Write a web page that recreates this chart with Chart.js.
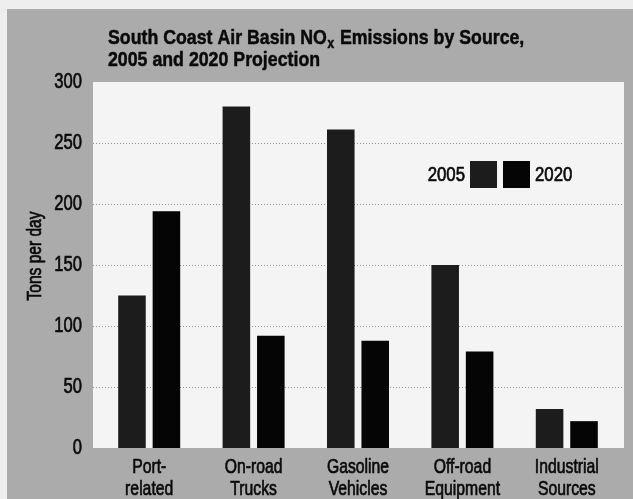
<!DOCTYPE html>
<html>
<head>
<meta charset="utf-8">
<title>South Coast Air Basin NOx Emissions by Source</title>
<script src="https://cdn.jsdelivr.net/npm/chart.js@4/dist/chart.umd.min.js"></script>
<style>
  html, body { margin: 0; padding: 0; background: #eeeeee; }
  #wrap { position: relative; width: 633px; height: 499px; }
</style>
</head>
<body>
<div id="wrap"><canvas id="chart" width="633" height="499"></canvas></div>
<script>
// Source categories (two-line axis labels)
const categories = [
  ["Port-", "related"],
  ["On-road", "Trucks"],
  ["Gasoline", "Vehicles"],
  ["Off-road", "Equipment"],
  ["Industrial", "Sources"]
];
// NOx emissions, tons per day
const emissions2005 = [125, 280, 261, 150, 32];
const emissions2020 = [194, 92, 88, 79, 22];
const seriesLabels = ["2005", "2020"];
const yTicks = [0, 50, 100, 150, 200, 250, 300];

const titleLine1 = ["South Coast Air Basin NO", "x", " Emissions by Source,"];
const titleLine2 = "2005 and 2020 Projection";
const yAxisTitle = "Tons per day";

const FONT = '"Liberation Sans", Arial, sans-serif';
const INK = '#0a0a0a';

// Condensed text: draw with a horizontal squeeze for a narrow typeface look,
// plus a hairline stroke to give the strokes a little more weight
function condensedText(ctx, text, x, y, size, opts) {
  const o = Object.assign({ weight: 'normal', align: 'left', baseline: 'alphabetic', squeeze: 0.75, rotate: 0, stroke: 0.7 }, opts);
  ctx.save();
  ctx.translate(x, y);
  if (o.rotate) ctx.rotate(o.rotate);
  ctx.scale(o.squeeze, 1);
  ctx.font = o.weight + ' ' + size + 'px ' + FONT;
  ctx.textAlign = o.align;
  ctx.textBaseline = o.baseline;
  ctx.fillStyle = INK;
  ctx.fillText(text, 0, 0);
  if (o.stroke > 0) {
    ctx.strokeStyle = INK;
    ctx.lineWidth = o.stroke;
    ctx.lineJoin = 'round';
    ctx.strokeText(text, 0, 0);
  }
  const w = ctx.measureText(text).width * o.squeeze;
  ctx.restore();
  return w;
}

// Page backdrop, grey panel, white plot box and dotted grid
const panelPlugin = {
  id: 'panel',
  beforeDraw(chart) {
    const { ctx, chartArea: a, scales: { y } } = chart;
    ctx.save();
    ctx.fillStyle = '#eeeeee';
    ctx.fillRect(0, 0, chart.width, chart.height);
    ctx.fillStyle = '#ababab';
    ctx.fillRect(7, 9, chart.width - 7, chart.height - 9);
    const left = a.left - 4, right = a.right + 5;
    const top = y.getPixelForValue(300), bottom = y.getPixelForValue(0);
    ctx.fillStyle = '#f4f4f4';
    ctx.fillRect(left, top, right - left, bottom - top);
    ctx.strokeStyle = '#959595';
    ctx.lineWidth = 1;
    ctx.setLineDash([1, 2]);
    yTicks.filter(v => v > 0 && v < 300).forEach(v => {
      const py = Math.round(y.getPixelForValue(v)) + 0.5;
      ctx.beginPath();
      ctx.moveTo(left, py);
      ctx.lineTo(right, py);
      ctx.stroke();
    });
    ctx.restore();
  },
  afterDraw(chart) {
    const { ctx, chartArea: a, scales: { x, y } } = chart;
    ctx.save();

    // Title with subscript x
    const tOpts = { weight: 'bold', squeeze: 0.845, stroke: 0.5 };
    let tx = 108;
    tx += condensedText(ctx, titleLine1[0], tx, 44, 21, tOpts);
    tx += condensedText(ctx, titleLine1[1], tx + 0.5, 48, 14, tOpts) + 1.5;
    condensedText(ctx, titleLine1[2], tx, 44, 21, tOpts);
    condensedText(ctx, titleLine2, 108, 66, 21, tOpts);

    // Y tick labels
    yTicks.forEach(v => {
      condensedText(ctx, String(v), 82, y.getPixelForValue(v), 22, { align: 'right', baseline: 'middle', squeeze: 0.755 });
    });

    // Category labels
    categories.forEach((lines, i) => {
      const cx = x.getPixelForTick(i);
      lines.forEach((line, j) => {
        condensedText(ctx, line, cx, a.bottom + 24.5 + j * 22, 21, { align: 'center', squeeze: 0.75 });
      });
    });

    // Y axis title
    condensedText(ctx, yAxisTitle, 35, 256, 21, { align: 'center', baseline: 'middle', squeeze: 0.74, rotate: -Math.PI / 2 });

    // Legend
    const ly = a.top + 92;
    const bx = a.left + 373;
    const ds = chart.data.datasets;
    condensedText(ctx, ds[0].label, bx - 5, ly + 1, 21, { align: 'right', baseline: 'middle', squeeze: 0.8 });
    ctx.fillStyle = ds[0].backgroundColor;
    ctx.fillRect(bx, ly - 13, 27, 27);
    ctx.fillStyle = ds[1].backgroundColor;
    ctx.fillRect(bx + 33, ly - 13, 27, 27);
    condensedText(ctx, ds[1].label, bx + 65, ly + 1, 21, { align: 'left', baseline: 'middle', squeeze: 0.8 });
    ctx.restore();
  }
};

new Chart(document.getElementById('chart'), {
  type: 'bar',
  data: {
    labels: categories,
    datasets: [
      { label: seriesLabels[0], data: emissions2005, backgroundColor: '#1c1c1c', borderWidth: 0 },
      { label: seriesLabels[1], data: emissions2020, backgroundColor: '#050505', borderWidth: 0 }
    ]
  },
  options: {
    responsive: false,
    animation: false,
    layout: { padding: { left: 0, right: 14, top: 82, bottom: 0 } },
    datasets: { bar: { barPercentage: 0.8, categoryPercentage: 0.66 } },
    plugins: {
      legend: { display: false },
      title: { display: false },
      tooltip: { enabled: false }
    },
    scales: {
      x: {
        grid: { display: false, drawTicks: false },
        border: { display: false },
        ticks: { display: false, autoSkip: false, maxRotation: 0 },
        afterFit(scale) { scale.height = 51; }
      },
      y: {
        min: 0,
        max: 300,
        afterBuildTicks(scale) { scale.ticks = yTicks.map(v => ({ value: v })); },
        grid: { display: false, drawTicks: false },
        border: { display: false },
        ticks: { display: false },
        afterFit(scale) { scale.width = 97; }
      }
    }
  },
  plugins: [panelPlugin]
});
</script>
</body>
</html>
